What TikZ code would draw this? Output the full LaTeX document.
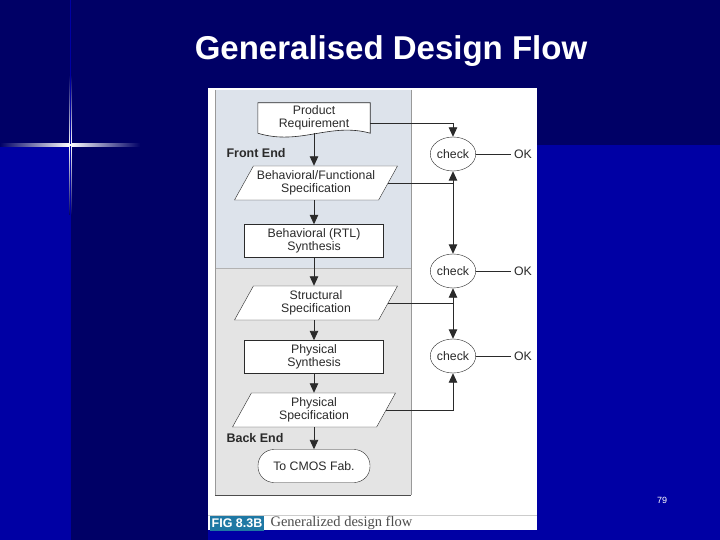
\documentclass[tikz,border=0pt]{standalone}
\usepackage{fontspec}
\setmainfont{Liberation Sans}
\newfontfamily\capfont{Liberation Serif}
\usetikzlibrary{shapes.geometric,arrows.meta}
\definecolor{navy}{HTML}{000066}
\definecolor{brightblue}{HTML}{0000A4}
\definecolor{frontbg}{HTML}{DDE3EB}
\definecolor{backbg}{HTML}{E4E4E4}
\definecolor{figteal}{HTML}{1E78A4}
\definecolor{ink}{HTML}{2A2A2A}
\tikzset{
  box/.style = {draw=ink, fill=white, text=ink, minimum width=139pt, minimum height=33pt, align=center, font=\fontsize{12.3}{13.5}\selectfont},
  spec/.style = {trapezium, trapezium left angle=55, trapezium right angle=125, trapezium stretches body, draw=ink, fill=white, text=ink, minimum width=163pt, minimum height=34pt, inner sep=1pt, align=center, font=\fontsize{12.3}{13.5}\selectfont},
  chk/.style = {ellipse, draw=ink, fill=white, text=ink, minimum width=42pt, minimum height=34pt, inner sep=0pt, font=\fontsize{12.3}{13.5}\selectfont},
  tag/.style = {text=ink, font=\fontsize{12.3}{13.5}\selectfont},
  endlabel/.style = {text=ink, anchor=west, font=\bfseries\fontsize{12.5}{13.5}\selectfont},
  flow/.style = {-{Triangle[width=8.5pt,length=9.5pt]}, draw=ink, line width=0.9pt}
}
\begin{document}
\begin{tikzpicture}[x=1pt,y=-1pt]
\useasboundingbox (0,0) rectangle (720,540);
\fill[navy] (0,0) rectangle (720,540);
\fill[brightblue] (0,145) rectangle (720,540);
\fill[navy] (70,145) rectangle (208,540);
\shade[left color=navy, right color=navy, middle color=white] (0,144) rectangle (140,146.5);
\shade[top color=navy, bottom color=navy, middle color=white] (69,75) rectangle (71.5,215);
\draw[blue!40!navy, line width=0.8pt] (70,0) -- (70,540);
\fill[white] (69.2,144.2) rectangle (71.2,146.2);

\node[white, font=\bfseries\fontsize{33}{36}\selectfont] (title) at (391,51) {Generalised Design Flow};
\node[white, font=\fontsize{9}{10}\selectfont] (page) at (662,500) {79};

\fill[white] (208,88) rectangle (537,530);
\fill[frontbg] (215,90) rectangle (411,268);
\fill[backbg] (215,268) rectangle (411,495);
\draw[gray!60] (215,268) -- (411,268);
\draw[gray!80, line width=0.8pt] (215,90) -- (215,495);
\draw[gray!80, line width=0.8pt] (411,90) -- (411,495);
\draw[black!70, line width=1pt] (215,495) -- (411,495);
\draw[gray!40] (208,515) -- (537,515);

\node[minimum width=112pt, minimum height=30pt] (prod) at (314,118) {};
\draw[ink, fill=white, line width=0.6pt] (prod.south west) -- (prod.north west) -- (prod.north east) -- (prod.south east)
  .. controls (330,122) and (300,146) .. (prod.south west);
\node[align=center, text=ink, font=\fontsize{12.3}{13.5}\selectfont] at (prod) {Product\\Requirement};
\node[endlabel] (front) at (223,153) {Front End};
\node[spec] (bfs) at (316,183) {Behavioral/Functional\\Specification};
\node[box] (rtl) at (314,241) {Behavioral (RTL)\\Synthesis};
\node[spec] (ss) at (316,303) {Structural\\Specification};
\node[box] (phs) at (314,357) {Physical\\Synthesis};
\node[spec] (ps) at (314,410) {Physical\\Specification};
\node[endlabel] (back) at (223,438) {Back End};
\node[box, rounded corners=16pt, minimum width=112pt] (fab) at (314,466) {To CMOS Fab.};

\node[chk] (chk1) at (453,154) {check};
\node[chk] (chk2) at (453,271) {check};
\node[chk] (chk3) at (453,356) {check};
\node[tag] (ok1) at (523,154) {OK};
\node[tag] (ok2) at (523,271) {OK};
\node[tag] (ok3) at (523,356) {OK};
\draw[ink, line width=0.6pt] (chk1) -- (ok1);
\draw[ink, line width=0.6pt] (chk2) -- (ok2);
\draw[ink, line width=0.6pt] (chk3) -- (ok3);

\draw[flow] (prod) -- (prod |- bfs.north);
\draw[flow] (rtl |- bfs.south) -- (rtl);
\draw[flow] (rtl) -- (rtl |- ss.north);
\draw[flow] (phs |- ss.south) -- (phs);
\draw[flow] (phs) -- (phs |- ps.north);
\draw[flow] (fab |- ps.south) -- (fab);

\coordinate (j1) at (bfs.east -| chk1.south);
\coordinate (j2) at (ss.east -| chk2.south);
\draw[flow] ([yshift=-5pt]prod.east) -| (chk1.north);
\draw[flow] (bfs.east) -- (j1) -- (chk1.south);
\draw[flow] (j1) -- (chk2.north);
\draw[flow] (ss.east) -- (j2) -- (chk2.south);
\draw[flow] (j2) -- (chk3.north);
\draw[flow] (ps.east) -| (chk3.south);

\node[fill=figteal, text=white, font=\bfseries\fontsize{12.5}{13}\selectfont, inner sep=1.5pt, minimum height=15pt] (fig) at (237,523) {FIG 8.3B};
\node[anchor=west, text=black!70, font=\capfont\fontsize{14.5}{15}\selectfont] (caption) at ([xshift=3pt]fig.east) {Generalized design flow};
\end{tikzpicture}
\end{document}
